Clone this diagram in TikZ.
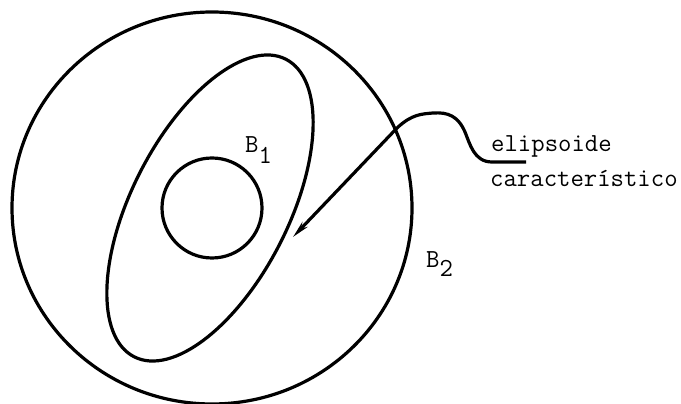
\documentclass[tikz,border=0pt]{standalone}
\usepackage{tikz}
\usetikzlibrary{arrows.meta,positioning}

\begin{document}
\begin{tikzpicture}[x=1pt,y=1pt,>={Stealth[length=17pt,width=7pt]},
outline/.style={line width=3.2pt},
tag/.style={font=\fontsize{26}{30}\ttfamily\selectfont,inner sep=0pt,anchor=base west}]
\useasboundingbox (0,0) rectangle (681,404);
% balls and the ellipsoid
\draw[outline] (212,196) ellipse [x radius=200,y radius=196];
\draw[outline] (212,196) circle [radius=50];
\draw[outline,shift={(210,196)},rotate=63] (0,0) ellipse [x radius=167,y radius=78.5];
% labels
\node[tag] (bone) at (245,251) {B\raisebox{-11pt}{1}};
\node[tag] (btwo) at (426,136) {B\raisebox{-9pt}{2}};
\node[tag] (elip) at (491,252) {elipsoide};
\node[tag] (carac) at (490,217) {característico};
% leader to the ellipsoid
\coordinate (hook) at (526,242);
\coordinate (tip) at (293,167);
\draw[outline,->] (hook) -- (492,242) .. controls (474,242) and (470,260) .. (465,272)
 .. controls (458,288) and (448,292) .. (433,291)
 .. controls (422,290) and (412,290) .. (397,276) -- (tip);
\end{tikzpicture}
\end{document}
